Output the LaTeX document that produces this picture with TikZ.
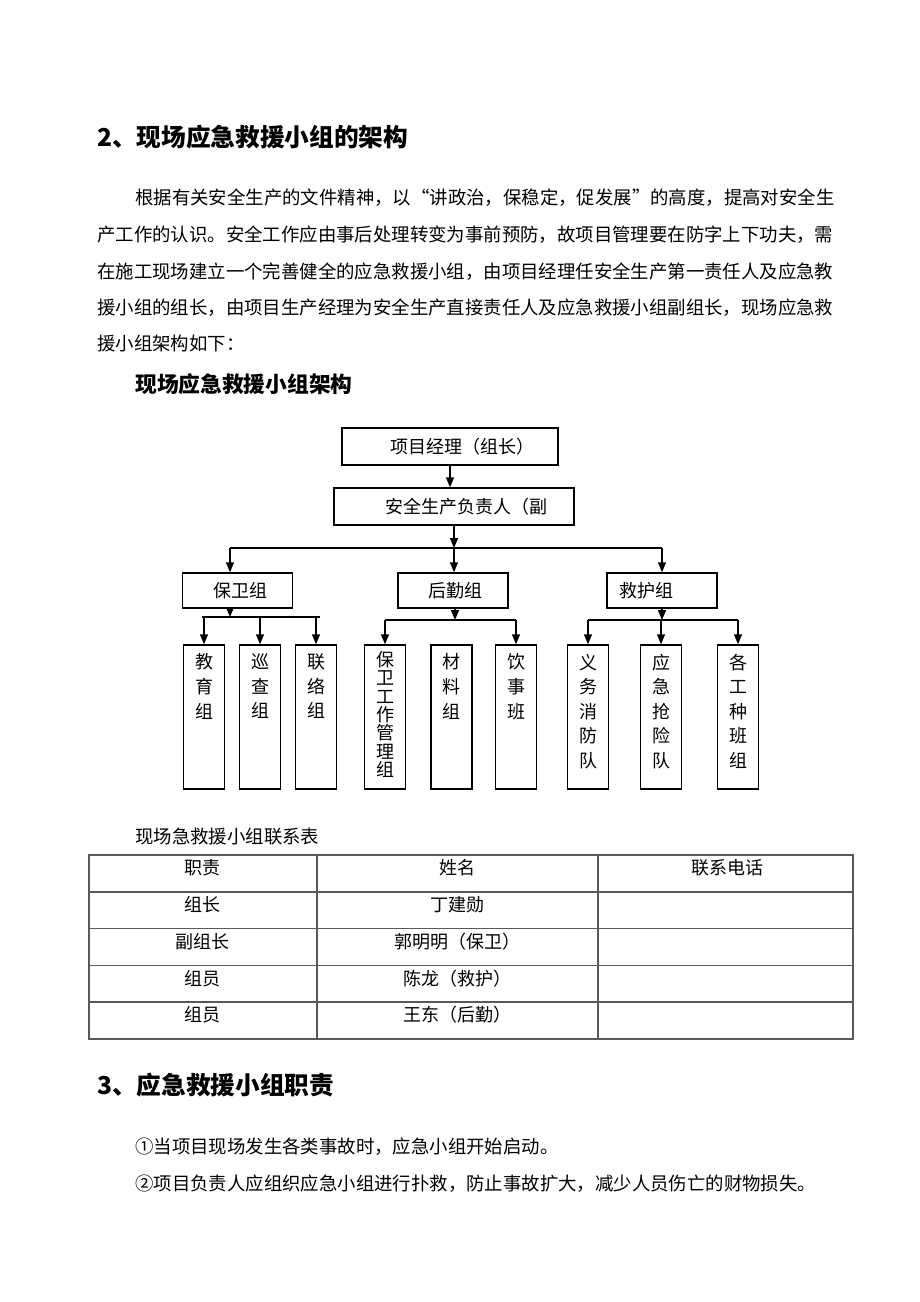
\documentclass[tikz,border=0pt]{standalone}
\usepackage{fontspec}
\usepackage{graphicx}
\setmainfont{Noto Sans CJK SC}
\usetikzlibrary{arrows.meta,positioning}
\XeTeXlinebreaklocale "zh"
\XeTeXlinebreakskip=0pt plus 2pt
\newcommand\zhline[2]{\makebox[#1][s]{#2}}
\begin{document}
\begin{tikzpicture}[x=0.75pt,y=-0.75pt,
    body/.style={anchor=west,inner sep=0pt,font=\fontsize{13.8pt}{16pt}\selectfont},
    head/.style={anchor=west,inner sep=0pt,font=\fontsize{18.5pt}{22pt}\selectfont\bfseries},
    subhead/.style={anchor=west,inner sep=0pt,font=\fontsize{16.3pt}{20pt}\selectfont\bfseries},
    chartbox/.style={draw,line width=1.1pt,inner sep=0pt},
    colbox/.style={draw,line width=1.1pt,inner sep=0pt,minimum width=30.75pt,minimum height=108pt},
    lbl/.style={inner sep=0pt,font=\fontsize{13.5pt}{16pt}\selectfont},
    vlbl/.style={inner sep=0pt,align=center,font=\fontsize{13.5pt}{18.4pt}\selectfont},
    arr/.style={line width=1.1pt,-{Triangle[length=7.5pt,width=6pt]}},
    tline/.style={draw=black!65,line width=0.9pt},
    cell/.style={inner sep=0pt,font=\fontsize{13.5pt}{16pt}\selectfont}]
    \useasboundingbox (0,0) rectangle (920,1302);
    \fill[white] (0,0) rectangle (920,1302);
    %%%% TITULO
    \node[head] (h2) at (97,137) {2、现场应急救援小组的架构};
    %%% TEXTO
    \node[body] (p1) at (135,198) {\zhline{530.25pt}{根据有关安全生产的文件精神，以“讲政治，保稳定，促发展”的高度，提高对安全生}};
    \node[body] (p2) at (97,235) {\zhline{558.75pt}{产工作的认识。安全工作应由事后处理转变为事前预防，故项目管理要在防字上下功夫，需}};
    \node[body] (p3) at (97,271.5) {\zhline{558.75pt}{在施工现场建立一个完善健全的应急救援小组，由项目经理任安全生产第一责任人及应急教}};
    \node[body] (p4) at (97,307.5) {\zhline{558.75pt}{援小组的组长，由项目生产经理为安全生产直接责任人及应急救援小组副组长，现场应急救}};
    \node[body] (p5) at (97,344) {援小组架构如下：};
    \node[subhead] (h2s) at (135,384) {现场应急救援小组架构};
    %%%% CAJAS ARRIBA
    \node[chartbox,minimum width=162pt,minimum height=27.75pt] (xmjl) at (450,446.5) {};
    \node[lbl] (xmjl-t) at (462,447) {项目经理（组长）};
    \node[chartbox,minimum width=180pt,minimum height=27.75pt] (aqsc) at (454,506.5) {};
    \node[lbl] (aqsc-t) at (466,507) {安全生产负责人（副};
    \draw[arr] (xmjl.south) -- (aqsc.north -| xmjl.south);
    %%% grupos
    \node[chartbox,minimum width=82.5pt,minimum height=26.25pt] (bwz) at (237.5,590.5) {};
    \node[lbl] (bwz-t) at (240,591) {保卫组};
    \node[chartbox,minimum width=82.5pt,minimum height=26.25pt] (hqz) at (453,590.5) {};
    \node[lbl] (hqz-t) at (455.5,591) {后勤组};
    \node[chartbox,minimum width=82.5pt,minimum height=26.25pt] (jhz) at (662,590.5) {};
    \node[lbl] (jhz-t) at (646,591) {救护组};
    \coordinate (h0) at (454,548);
    \coordinate (h1) at (230,548);
    \coordinate (h3) at (662,548);
    \draw[arr] (aqsc.south) -- (h0);
    \draw[line width=1.1pt] (h1) -- (h3);
    \draw[arr] (h1) -- (h1 |- bwz.north);
    \draw[arr] (h0) -- (h0 |- hqz.north);
    \draw[arr] (h3) -- (h3 |- jhz.north);
    %%%% CAJAS ABAJO
    \node[colbox] (jyz) at (204,717) {};
    \node[colbox] (xcz) at (260,717) {};
    \node[colbox] (llz) at (316,717) {};
    \node[colbox] (bwgl) at (385,717) {};
    \node[colbox] (clz) at (451.5,717) {};
    \node[colbox] (ysb) at (516,717) {};
    \node[colbox] (ywxf) at (588,717) {};
    \node[colbox] (yjqx) at (661,717) {};
    \node[colbox] (gzbz) at (738,717) {};
    \node[vlbl,below=7pt of jyz.north] (jyz-t) {教\\育\\组};
    \node[vlbl,below=7pt of xcz.north] (xcz-t) {巡\\查\\组};
    \node[vlbl,below=7pt of llz.north] (llz-t) {联\\络\\组};
    \node[vlbl,below=5pt of bwgl.north,font=\fontsize{13.5pt}{13.8pt}\selectfont] (bwgl-t) {保\\卫\\工\\作\\管\\理\\组};
    \node[vlbl,below=7pt of clz.north] (clz-t) {材\\料\\组};
    \node[vlbl,below=7pt of ysb.north] (ysb-t) {饮\\事\\班};
    \node[vlbl,below=7pt of ywxf.north] (ywxf-t) {义\\务\\消\\防\\队};
    \node[vlbl,below=7pt of yjqx.north] (yjqx-t) {应\\急\\抢\\险\\队};
    \node[vlbl,below=7pt of gzbz.north] (gzbz-t) {各\\工\\种\\班\\组};
    %%% flechas
    \coordinate (b0) at (230,617);
    \draw[arr] (bwz.south -| b0) -- (b0);
    \draw[line width=1.1pt] ([xshift=-1.5pt]jyz.north |- b0) -- ([xshift=3pt]llz.north |- b0);
    \foreach \n in {jyz,xcz,llz} \draw[arr] (\n.north |- b0) -- (\n.north);
    \coordinate (q0) at (455,620);
    \draw[arr] (hqz.south -| q0) -- (q0);
    \draw[line width=1.1pt] (bwgl.north |- q0) -- (ysb.north |- q0);
    \foreach \n in {bwgl,ysb} \draw[arr] (\n.north |- q0) -- (\n.north);
    \coordinate (r0) at (662,620);
    \draw[arr] (jhz.south -| r0) -- (r0);
    \draw[line width=1.1pt] (ywxf.north |- r0) -- (gzbz.north |- r0);
    \foreach \n in {ywxf,yjqx,gzbz} \draw[arr] (\n.north |- r0) -- (\n.north);
    %%%% TABLA
    \node[body] (tt) at (135,837) {现场急救援小组联系表};
    \draw[tline] (89,855) rectangle (853,1039);
    \draw[tline] (317,855) -- (317,1039);
    \draw[tline] (598,855) -- (598,1039);
    \foreach \y in {892,928.5,965.5,1002} \draw[tline] (89,\y) -- (853,\y);
    \foreach \y/\a/\b [count=\i] in {868/职责/姓名,905/组长/丁建勋,942/副组长/郭明明（保卫）,978.5/组员/陈龙（救护）,1015/组员/王东（后勤）}{
        \node[cell] (zz\i) at (202,\y) {\a};
        \node[cell] (xm\i) at (457,\y) {\b};
    }
    \node[cell] (dh1) at (727,868) {联系电话};
    %%%% TITULO 3
    \node[head] (h3t) at (97,1085) {3、应急救援小组职责};
    \node[body] (i1) at (135,1147) {①当项目现场发生各类事故时，应急小组开始启动。};
    \node[body] (i2) at (135,1184) {②项目负责人应组织应急小组进行扑救，防止事故扩大，减少人员伤亡的财物损失。};
\end{tikzpicture}
\end{document}
